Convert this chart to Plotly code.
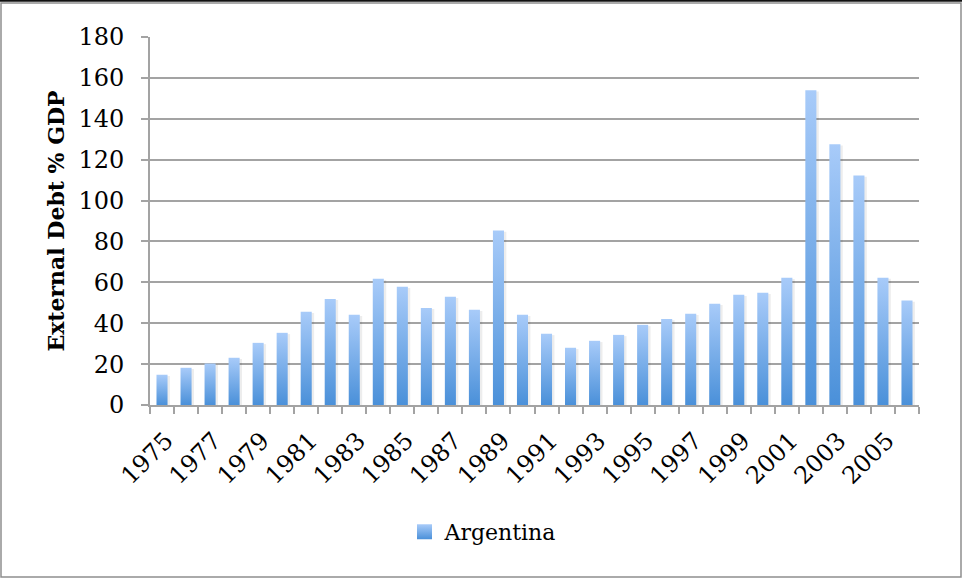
import plotly.graph_objects as go

# Argentina: external debt as a share of GDP, 1975-2006
years = list(range(1975, 2007))
debt_pct_gdp = [
    14.8, 18.2, 20.3, 23.1, 30.4, 35.3, 45.6, 51.9, 44.1, 61.7, 57.8, 47.5,
    52.9, 46.6, 85.4, 44.1, 34.8, 28.0, 31.4, 34.3, 39.2, 42.1, 44.6, 49.5,
    53.9, 54.9, 62.2, 153.9, 127.5, 112.3, 62.3, 51.1,
]
label_years = list(range(1975, 2006, 2))
y_ticks = list(range(0, 181, 20))

series_name = "Argentina"
FONT = "DejaVu Serif"
TOP_BLUE = "#A8CBF9"
BOTTOM_BLUE = "#4A90D9"
GRID = "#A3A3A3"

W, H = 962, 579
L, R, T, B = 150, 43, 37, 174
plot_w, plot_h = W - L - R, H - T - B


def px(x, y):
    """Pixel position on the page -> paper coordinates."""
    return (x - L) / plot_w, (H - B - y) / plot_h


fig = go.Figure()

half = 0.23
shadow_dx = 0.10
for yr, v in zip(years, debt_pct_gdp):
    x0, x1 = yr - half, yr + half
    # soft drop shadow to the right of each bar
    fig.add_trace(go.Scatter(
        x=[x0 + shadow_dx, x0 + shadow_dx, x1 + shadow_dx, x1 + shadow_dx, x0 + shadow_dx],
        y=[0, v - 0.6, v - 0.6, 0, 0],
        mode="lines", fill="toself", line=dict(width=0),
        fillcolor="rgba(0,0,0,0.07)", showlegend=False, hoverinfo="skip",
    ))
    # gradient-filled bar, light at the top, deeper blue at the base
    fig.add_trace(go.Scatter(
        x=[x0, x0, x1, x1, x0],
        y=[0, v, v, 0, 0],
        mode="lines", fill="toself", line=dict(width=0),
        fillgradient=dict(type="vertical", start=0, stop=v,
                          colorscale=[[0, BOTTOM_BLUE], [1, TOP_BLUE]]),
        name=series_name, showlegend=False, hoverinfo="skip",
    ))

# legend swatch
fig.add_trace(go.Scatter(
    x=[None], y=[None], mode="markers", name=series_name,
    marker=dict(symbol="square", size=15, color=TOP_BLUE,
                gradient=dict(type="vertical", color=BOTTOM_BLUE),
                line=dict(width=0)),
))

# outer frame and top rule
fx0, fy0 = px(1, 577)
fx1, fy1 = px(961, 3)
shapes = [
    dict(type="rect", xref="paper", yref="paper", x0=fx0, y0=fy0, x1=fx1, y1=fy1,
         line=dict(color="#8E8E8E", width=1.5), layer="below"),
]
tx0, ty0 = px(0, 0.8)
tx1, _ = px(962, 0.8)
shapes.append(dict(type="line", xref="paper", yref="paper", x0=tx0, x1=tx1, y0=ty0, y1=ty0,
                   line=dict(color="#111111", width=2)))

legend_x, legend_y = px(483, 532)

fig.update_layout(
    width=W, height=H,
    margin=dict(l=L, r=R, t=T, b=B, autoexpand=False),
    paper_bgcolor="white", plot_bgcolor="white",
    font=dict(family=FONT, size=24, color="black"),
    showlegend=True,
    legend=dict(orientation="h", x=legend_x, y=legend_y, xanchor="center", yanchor="middle",
                font=dict(family=FONT, size=22, color="black"),
                itemwidth=30, bgcolor="rgba(0,0,0,0)"),
    shapes=shapes,
    xaxis=dict(
        range=[1974.5, 2006.5], showgrid=False, zeroline=False,
        tickmode="array", tickvals=label_years, ticktext=[str(y) for y in label_years],
        tickangle=-45, ticks="", showline=True, linecolor=GRID, linewidth=2,
        tickfont=dict(family=FONT, size=24, color="black"),
        ticklabelstandoff=10, ticklabelshift=4,
        minor=dict(tickmode="array", tickvals=[y - 0.5 for y in years] + [years[-1] + 0.5],
                   ticks="outside", ticklen=7, tickcolor=GRID, tickwidth=2, showgrid=False),
        fixedrange=True,
    ),
    yaxis=dict(
        range=[0, 180], tickmode="array", tickvals=y_ticks,
        showgrid=True, gridcolor=GRID, gridwidth=2, zeroline=False,
        showline=True, linecolor=GRID, linewidth=2,
        ticks="outside", ticklen=7, tickcolor=GRID, tickwidth=2,
        tickfont=dict(family=FONT, size=24, color="black"),
        ticklabelstandoff=12,
        title=dict(text="<b>External Debt % GDP</b>", standoff=8,
                   font=dict(family=FONT, size=22, color="black")),
        fixedrange=True,
    ),
)

fig.write_html("out.html")
